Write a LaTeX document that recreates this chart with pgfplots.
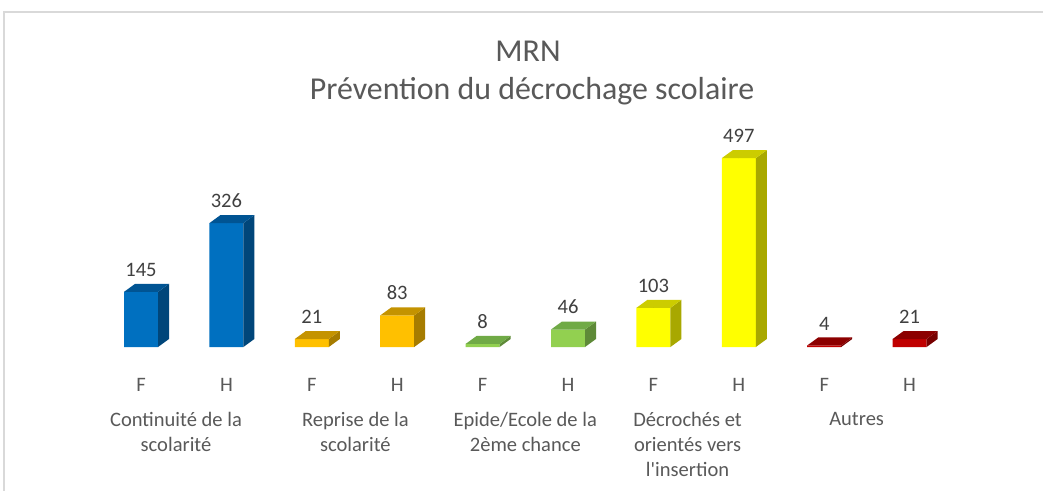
\documentclass[border=0pt]{standalone}
\usepackage{fontspec}
\setmainfont{Carlito}[Ligatures=TeXReset]
\usepackage{pgfplots}
\usepackage{pgfplotstable}
\pgfplotsset{compat=1.18}

\definecolor{txt}{RGB}{89,89,89}
\definecolor{lbl}{RGB}{64,64,64}
\definecolor{frame}{RGB}{217,217,217}
% front / top / side
\definecolor{bluF}{RGB}{0,112,192}\definecolor{bluT}{RGB}{0,84,147}\definecolor{bluS}{RGB}{0,70,122}
\definecolor{golF}{RGB}{255,192,0}\definecolor{golT}{RGB}{196,147,0}\definecolor{golS}{RGB}{166,124,0}
\definecolor{greF}{RGB}{146,208,80}\definecolor{greT}{RGB}{112,170,70}\definecolor{greS}{RGB}{94,138,56}
\definecolor{yelF}{RGB}{255,255,0}\definecolor{yelT}{RGB}{204,204,0}\definecolor{yelS}{RGB}{168,168,0}
\definecolor{redF}{RGB}{192,0,0}\definecolor{redT}{RGB}{140,0,0}\definecolor{redS}{RGB}{120,0,0}

\pgfplotstableread{
x v
0 145
1 326
}\tcont
\pgfplotstableread{
x v
2 21
3 83
}\trep
\pgfplotstableread{
x v
4 8
5 46
}\tepi
\pgfplotstableread{
x v
6 103
7 497
}\tdec
\pgfplotstableread{
x v
8 4
9 21
}\taut

\pgfplotsset{
  front/.style={ybar, bar width=17bp, bar shift=0pt, fill=#1, draw=none, nodes near coords},
  faces/.style 2 args={
    scatter, only marks, mark=*, mark size=0pt, draw=none, fill=none,
    visualization depends on={rawy \as \val},
    scatter/@pre marker code/.code={
      \fill[#2] (8.5bp,0pt) -- (14bp,4bp) -- (14bp,{4bp-\val*0.19bp}) -- (8.5bp,{-\val*0.19bp}) -- cycle;
      \fill[#1] (-8.5bp,0pt) -- (8.5bp,0pt) -- (14bp,4bp) -- (-3bp,4bp) -- cycle;
    },
    scatter/@post marker code/.code={},
  },
}

\begin{document}
\begin{tikzpicture}
\useasboundingbox (0,0) rectangle (521.5bp,245.5bp);
\fill[white] (0,0) rectangle (521.5bp,245.5bp);
\draw[frame, line width=0.8bp] (2bp,0) -- (2bp,239.5bp) -- (521.5bp,239.5bp);

\node[text=txt, font=\fontsize{16}{19}\selectfont] at (264bp,220bp) {MRN};
\node[text=txt, font=\fontsize{16}{19}\selectfont] at (266bp,200bp) {Prévention du décrochage scolaire};

\begin{axis}[
  at={(70.5bp,72bp)}, anchor=origin,
  x=42.7bp, y=0.19bp,
  xmin=-0.5, xmax=9.5, ymin=0, ymax=560,
  clip=false,
  axis x line=bottom, axis y line=none,
  axis line style={draw=none},
  xtick={0,...,9},
  xticklabels={F,H,F,H,F,H,F,H,F,H},
  xtick style={draw=none},
  ytick=\empty,
  xticklabel style={font=\fontsize{10.3}{12.5}\selectfont, text=txt, yshift=-10bp},
  /pgf/number format/assume math mode=true,
  every node near coord/.append style={font=\fontsize{10.3}{12.5}\selectfont, text=lbl,
    anchor=south, inner sep=0pt, yshift=7.5bp},
]
\addplot[front=bluF] table[x=x,y=v]{\tcont};
\addplot[faces={bluT}{bluS}] table[x=x,y=v]{\tcont};
\addplot[front=golF] table[x=x,y=v]{\trep};
\addplot[faces={golT}{golS}] table[x=x,y=v]{\trep};
\addplot[front=greF] table[x=x,y=v]{\tepi};
\addplot[faces={greT}{greS}] table[x=x,y=v]{\tepi};
\addplot[front=yelF] table[x=x,y=v]{\tdec};
\addplot[faces={yelT}{yelS}] table[x=x,y=v]{\tdec};
\addplot[front=redF] table[x=x,y=v]{\taut};
\addplot[faces={redT}{redS}] table[x=x,y=v]{\taut};

\begin{scope}[every node/.style={anchor=north, align=center, inner sep=0pt, text=txt,
    font=\fontsize{10.3}{12.5}\selectfont}]
\node at (axis cs:0.41,0) [yshift=-32.5bp] {Continuité de la\\scolarité};
\node at (axis cs:2.51,0) [yshift=-32.5bp] {Reprise de la\\scolarité};
\node at (axis cs:4.50,0) [yshift=-32.5bp] {Epide/Ecole de la\\2ème chance};
\node at (axis cs:6.40,0) [yshift=-32.5bp] {Décrochés et\\orientés vers\\l'insertion};
\node at (axis cs:8.38,0) [yshift=-32.5bp] {Autres};
\end{scope}
\end{axis}
\end{tikzpicture}
\end{document}
